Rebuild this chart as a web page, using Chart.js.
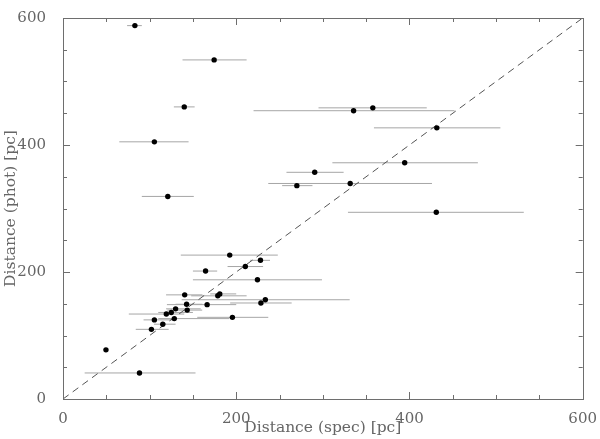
<!DOCTYPE html>
<html>
<head>
<meta charset="utf-8">
<script src="https://cdn.jsdelivr.net/npm/chart.js@4"></script>
<style>
  body { margin: 0; background: #fff; }
</style>
</head>
<body>
<canvas id="myChart" width="600" height="439"></canvas>
<script>
// distances (pc)
var distSpec = [83, 174.5, 140, 105.5, 121, 335.5, 357.7, 431.6, 394.5, 290.6, 331.6, 270, 431,
  192.5, 228, 210.5, 164.6, 224.5, 140.5, 178.7, 181, 142.7, 143.4, 166.4, 228.5, 233.6,
  130, 125, 119.3, 105.5, 128.5, 115.2, 102.1, 195.6, 49.6, 88.3];
var distPhot = [588, 534, 460, 405, 319, 454, 458.5, 427, 372, 357, 339.4, 336, 294,
  226.6, 218.4, 208.6, 201.5, 187.7, 164, 162.5, 165.5, 149.2, 140, 148.6, 151.2, 156.3,
  142, 136.3, 133.8, 124.6, 126.6, 117.8, 109.7, 128.6, 77.4, 41];
var specLow = [74, 138, 128, 65, 91, 220, 295, 359, 311, 258, 237, 253, 329,
  136, 216, 190, 150, 150, 119, 148, 170, 130, 120.5, 120, 193, 137,
  119, 110, 76, 93, 110, 105, 84, 155, 49.6, 25];
var specHigh = [91, 212, 152, 145, 151, 452, 420, 505, 479, 324, 426, 288, 532,
  248, 239, 231, 178, 299, 161, 212, 200, 161, 160.7, 200, 264, 331,
  159, 150, 140, 128, 192, 130, 122, 237, 49.6, 153];
var axisTicks = [0, 200, 400, 600];

var points = distSpec.map(function(x, i) {
  return { x: x, y: distPhot[i] };
});

// horizontal error bars as one broken line
var errSegs = [];
distPhot.forEach(function(y, i) {
  errSegs.push({ x: specLow[i], y: y });
  errSegs.push({ x: specHigh[i], y: y });
  errSegs.push({ x: specHigh[i], y: null });
});

var axisColor = "#6e6e6e";
var textColor = "#666";

// frame + inward tick marks on all four sides
var frameTicks = {
  id: "frameTicks",
  afterDraw: function(chart) {
    var ctx = chart.ctx, a = chart.chartArea;
    var xs = chart.scales.x, ys = chart.scales.y;
    ctx.save();
    ctx.strokeStyle = axisColor;
    ctx.lineWidth = 1;
    ctx.strokeRect(Math.round(a.left) + 0.5, Math.round(a.top) + 0.5,
      Math.round(a.right - a.left), Math.round(a.bottom - a.top));
    ctx.beginPath();
    for (var v = 0; v <= 600; v += 50) {
      var len = (v % 200 === 0) ? 7 : 4;
      var px = Math.round(xs.getPixelForValue(v)) + 0.5;
      ctx.moveTo(px, a.bottom); ctx.lineTo(px, a.bottom - len);
      ctx.moveTo(px, a.top); ctx.lineTo(px, a.top + len);
      var py = Math.round(ys.getPixelForValue(v)) + 0.5;
      ctx.moveTo(a.left, py); ctx.lineTo(a.left + len, py);
      ctx.moveTo(a.right, py); ctx.lineTo(a.right - len, py);
    }
    ctx.stroke();
    ctx.restore();
  }
};

var tickFont = { family: "DejaVu Serif", size: 15 };
var titleFont = { family: "DejaVu Serif", size: 15.5 };

var ctx = document.getElementById("myChart").getContext("2d");

var myChart = new Chart(ctx, {
  type: "scatter",
  data: {
    datasets: [
      {
        label: "stars",
        data: points,
        backgroundColor: "#000",
        borderColor: "#000",
        pointRadius: 2.7,
        borderWidth: 0,
        order: 0
      },
      {
        label: "1:1",
        type: "line",
        data: [{ x: 0, y: 0 }, { x: 600, y: 600 }],
        borderColor: "#555",
        borderWidth: 1,
        borderDash: [7, 5],
        pointRadius: 0,
        fill: false,
        order: 1
      },
      {
        label: "err",
        type: "line",
        data: errSegs,
        borderColor: "#a6a6a6",
        borderWidth: 1,
        pointRadius: 0,
        spanGaps: false,
        fill: false,
        order: 2
      }
    ]
  },
  options: {
    responsive: false,
    animation: false,
    layout: { padding: { top: 9, right: 14, left: 0, bottom: 0 } },
    plugins: {
      legend: { display: false },
      tooltip: { enabled: false }
    },
    scales: {
      x: {
        type: "linear",
        min: 0,
        max: 600,
        afterBuildTicks: function(scale) {
          scale.ticks = axisTicks.map(function(v) { return { value: v }; });
        },
        afterFit: function(scale) { scale.height = 40; },
        grid: { display: false },
        border: { display: false },
        ticks: { color: textColor, font: tickFont, padding: 3, maxRotation: 0 },
        title: {
          display: true,
          text: "Distance (spec) [pc]",
          color: textColor,
          font: titleFont,
          padding: { top: 0, bottom: 2 }
        }
      },
      y: {
        type: "linear",
        min: 0,
        max: 600,
        afterBuildTicks: function(scale) {
          scale.ticks = axisTicks.map(function(v) { return { value: v }; });
        },
        afterFit: function(scale) { scale.width = 63; },
        grid: { display: false },
        border: { display: false },
        ticks: { color: textColor, font: tickFont, padding: 9 },
        title: {
          display: true,
          text: "Distance (phot) [pc]",
          color: textColor,
          font: titleFont,
          padding: { top: 2, bottom: 0 }
        }
      }
    }
  },
  plugins: [frameTicks]
});
</script>
</body>
</html>
